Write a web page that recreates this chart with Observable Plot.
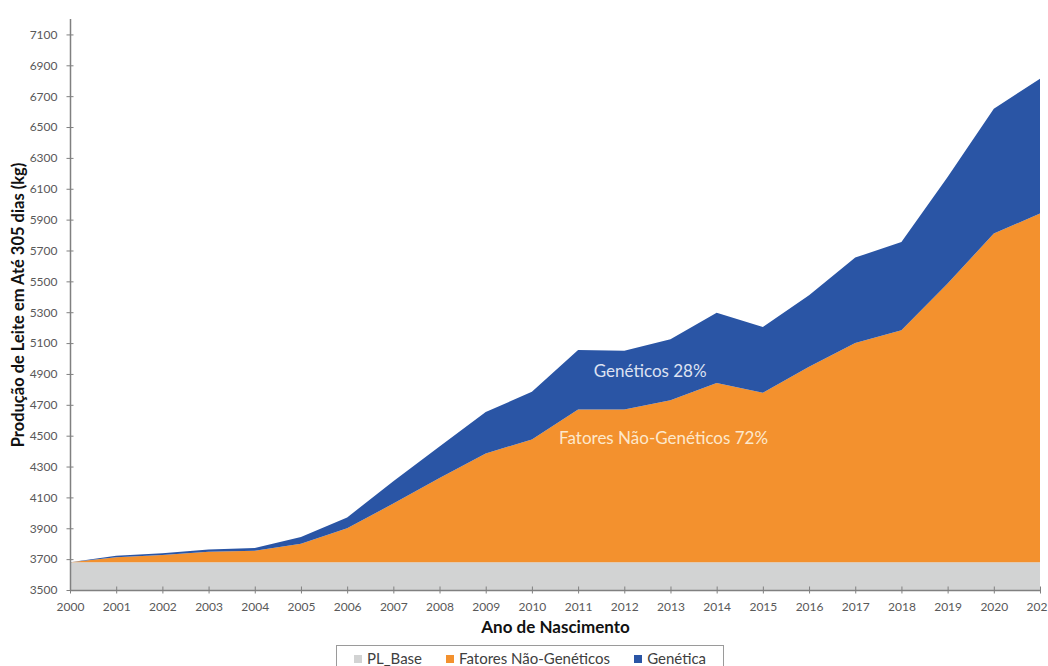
<!DOCTYPE html>
<html><head><meta charset="utf-8">
<script src="https://cdn.jsdelivr.net/npm/d3@7"></script>
<script src="https://cdn.jsdelivr.net/npm/@observablehq/plot@0.6"></script>
<style>
body{margin:0;background:#fff;font-family:Lato,"Open Sans",sans-serif;}
#chart{position:relative;width:1048px;height:666px;overflow:hidden;background:#fff}
#legend{position:absolute;left:336px;top:645px;width:388px;height:30px;border:1px solid #9a9a9a;box-sizing:border-box;display:flex;align-items:flex-start;justify-content:center;gap:24px;padding-top:3px;font-size:15px;line-height:18px;color:#404040;background:#fff}
#legend span.sw{display:inline-block;width:8px;height:8px;margin-right:5px;vertical-align:1px}
</style></head>
<body><div id="chart"></div>
<script>
const years = [2000,2001,2002,2003,2004,2005,2006,2007,2008,2009,2010,2011,2012,2013,2014,2015,2016,2017,2018,2019,2020,2021];
const plBase = [3680,3680,3680,3680,3680,3680,3680,3680,3680,3680,3680,3680,3680,3680,3680,3680,3680,3680,3680,3680,3680,3680];
const fatores = [0,32,47,68,75,120,220,380,545,705,795,990,990,1050,1162,1098,1266,1421,1503,1806,2130,2259];
const genetica = [0,10,11,15,17,43,70,145,205,268,309,385,380,395,454,427,464,553,572,690,809,874];
const series = ["PL_Base","Fatores Não-Genéticos","Genética"];
const colors = ["#d2d3d3","#f3912e","#2a55a5"];
const yTicks = [3500,3700,3900,4100,4300,4500,4700,4900,5100,5300,5500,5700,5900,6100,6300,6500,6700,6900,7100];
const notes = [
  {x:2012.55, y:4918, text:"Genéticos 28%", fill:"#dde2f2"},
  {x:2012.84, y:4482, text:"Fatores Não-Genéticos 72%", fill:"#fde8cc"}
];
const yTitle = "Produção de Leite em Até 305 dias (kg)";
const xTitle = "Ano de Nascimento";

const table = years.flatMap((yr,i)=>[
  {year:yr, serie:series[0], value:plBase[i]},
  {year:yr, serie:series[1], value:fatores[i]},
  {year:yr, serie:series[2], value:genetica[i]}
]);

const chart = Plot.plot({
  width:1048, height:642,
  marginLeft:70, marginRight:8, marginTop:19, marginBottom:52,
  style:{fontFamily:"Lato, 'Open Sans', sans-serif", fontSize:"12px", color:"#595959", background:"#fff"},
  x:{domain:[2000,2021]},
  y:{domain:[3500,7200]},
  color:{domain:series, range:colors},
  marks:[
    Plot.areaY(table,{x:"year", y:"value", fill:"serie", order:series, clip:true}),
    Plot.ruleX([2000],{stroke:"#808080", strokeWidth:1.5}),
    Plot.ruleY([3500],{stroke:"#808080", strokeWidth:1.5}),
    Plot.axisY({ticks:yTicks, tickSize:7, dx:3.5, tickFormat:()=>"", label:null, stroke:"#808080"}),
    Plot.axisY({ticks:yTicks, tickSize:0, tickPadding:13, tickFormat:d=>String(d), label:null, fill:"#595959"}),
    Plot.axisX({ticks:years, tickSize:7, dy:-3.5, tickFormat:()=>"", label:null, stroke:"#808080"}),
    Plot.axisX({ticks:years, tickSize:0, tickPadding:12, tickFormat:d=>String(d), label:null, fill:"#595959"}),
    Plot.text(notes,{x:"x", y:"y", text:"text", fill:"fill", fontSize:17}),
    Plot.text([yTitle],{frameAnchor:"left", textAnchor:"middle", rotate:-90, dx:-52, fontSize:16.5, fontWeight:"bold", fill:"#111"}),
    Plot.text([xTitle],{frameAnchor:"bottom", dy:42, fontSize:17, fontWeight:"bold", fill:"#111"})
  ]
});
const root = document.getElementById("chart");
root.appendChild(chart);
const leg = document.createElement("div");
leg.id = "legend";
series.forEach((s,i)=>{
  const it = document.createElement("div");
  it.innerHTML = `<span class="sw" style="background:${colors[i]}"></span>${s}`;
  leg.appendChild(it);
});
root.appendChild(leg);
</script>
</body></html>
